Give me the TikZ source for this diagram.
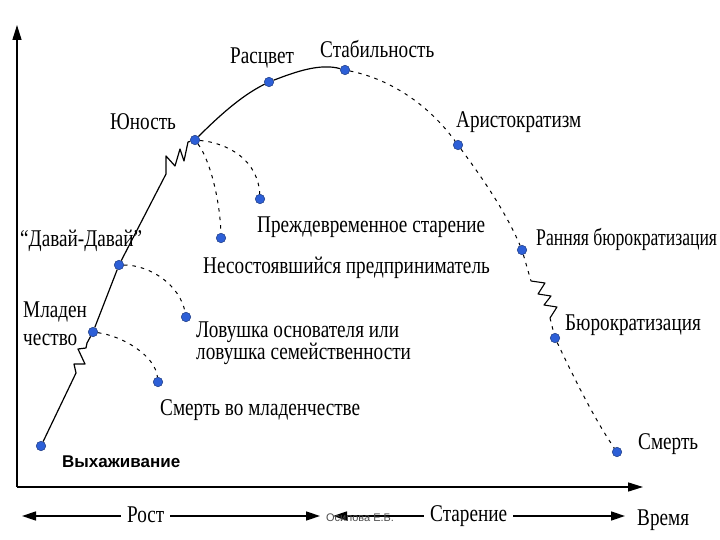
\documentclass[tikz,border=0pt]{standalone}
\usepackage{fontspec}
\setmainfont{Liberation Serif}
\newfontfamily\lblfont[FakeStretch=0.8]{Liberation Serif}
\newfontfamily\sansf{Liberation Sans}
\usetikzlibrary{arrows.meta}
\definecolor{dotblue}{RGB}{45,95,215}
\tikzset{
  dot/.style={circle,inner sep=0pt,minimum width=8.5pt,minimum height=9.5pt,fill=dotblue,draw=dotblue!60!black,line width=0.5pt},
  lbl/.style={font=\lblfont\fontsize{24}{22}\selectfont,inner sep=0pt,anchor=base west,align=left},
  solidc/.style={line width=1.2pt,line join=round},
  dashc/.style={line width=1pt,dash pattern=on 3.5pt off 5pt},
  axis/.style={line width=1.5pt,-{Triangle[length=15pt,width=9pt]}},
  baxis/.style={line width=1.5pt,{Triangle[length=14pt,width=9pt]}-{Triangle[length=14pt,width=9pt]}},
}
\begin{document}
\begin{tikzpicture}[x=1pt,y=-1pt]
\useasboundingbox (0,0) rectangle (720,540);
\clip (0,0) rectangle (720,540);
\fill[white] (0,0) rectangle (720,540);
% axes
\coordinate (o) at (17,487);
\coordinate (ytop) at (17,25);
\coordinate (xend) at (643,487);
\draw[axis] (o) -- (ytop);
\draw[axis] (o) -- (xend);
% dots
\node[dot] (vyh) at (41,446) {};
\node[dot] (mlad) at (93,332) {};
\node[dot] (davai) at (119,265) {};
\node[dot] (yun) at (195,140) {};
\node[dot] (rasc) at (269,82) {};
\node[dot] (stab) at (345,70) {};
\node[dot] (arist) at (458,145) {};
\node[dot] (rann) at (522,250) {};
\node[dot] (buro) at (555,338) {};
\node[dot] (smert) at (617,452) {};
\node[dot] (prezhd) at (260,199) {};
\node[dot] (nesost) at (221,238) {};
\node[dot] (lov) at (186,317) {};
\node[dot] (smml) at (158,382) {};
% zigzag coordinates
\coordinate (z1a) at (76,373);
\coordinate (z1b) at (87,343);
\coordinate (z2a) at (166,174);
\coordinate (z2b) at (188,142);
\coordinate (z3a) at (531,281);
\coordinate (z3b) at (550,318);
% main solid curve
\draw[solidc] (vyh) -- (z1a) -- (74,364) -- (85,364) -- (78,349) -- (86,348) -- (z1b) -- (mlad);
\draw[solidc] (mlad) -- (davai);
\draw[solidc] (davai) -- (z2a) -- (166,156) -- (175,166) -- (180,149) -- (184,161) -- (z2b) -- (yun);
\draw[solidc] (yun) .. controls (225,110) and (245,94) .. (rasc);
\draw[solidc] (rasc) .. controls (295,72) and (320,63) .. (stab);
% decline (dashed)
\draw[dashc] (stab) .. controls (385,78) and (425,100) .. (arist);
\draw[dashc] (arist) .. controls (480,175) and (505,210) .. (rann);
\draw[dashc] (rann) -- (z3a);
\draw[line width=1.1pt,line join=round] (z3a) -- (545,283) -- (538,294) -- (551,296) -- (544,305) -- (557,307) -- (z3b);
\draw[dashc] (z3b) -- (buro);
\draw[dashc] (buro) .. controls (575,380) and (595,420) .. (smert);
% branches
\draw[dashc] (yun) .. controls (228,143) and (258,160) .. (prezhd);
\draw[dashc] (yun) .. controls (210,160) and (220,200) .. (nesost);
\draw[dashc] (davai) .. controls (150,265) and (180,285) .. (lov);
\draw[dashc] (mlad) .. controls (122,336) and (155,355) .. (smml);
% labels
\node[lbl] (tRasc) at (230,64) {Расцвет};
\node[lbl] (tStab) at (320,58) {Стабильность};
\node[lbl] (tYun) at (110,130) {Юность};
\node[lbl] (tArist) at (456,128) {Аристократизм};
\node[lbl] (tPrezhd) at (257,233) {Преждевременное старение};
\node[lbl] (tNesost) at (203,273) {Несостоявшийся предприниматель};
\node[lbl] (tDavai) at (20,247) {“Давай-Давай”};
\node[lbl] (tRann) at (536,245) {\scalebox{0.92}[1]{Ранняя бюрократизация}};
\node[lbl] (tBuro) at (565,330) {Бюрократизация};
\node[lbl] (tMlad1) at (23,317) {Младен};
\node[lbl] (tMlad2) at (23,345) {чество};
\node[lbl] (tLov1) at (196,337) {Ловушка основателя или};
\node[lbl] (tLov2) at (196,359) {ловушка семейственности};
\node[lbl] (tSmml) at (160,415) {Смерть во младенчестве};
\node[lbl] (tSmert) at (638,449) {Смерть};
\node[font=\sansf\bfseries\fontsize{17}{17}\selectfont,inner sep=0pt,anchor=base west] (tVyh) at (62,467) {Выхаживание};
% bottom arrows
\coordinate (b1) at (22,516);
\coordinate (b2) at (320,516);
\coordinate (b3) at (333,516);
\coordinate (b4) at (625,516);
\draw[baxis] (b1) -- (b2);
\draw[baxis] (b3) -- (b4);
\node[lbl,fill=white,inner xsep=6pt,inner ysep=2pt] (tRost) at (121,522) {Рост};
\node[lbl,fill=white,inner xsep=6pt,inner ysep=2pt] (tStar) at (424,521) {Старение};
\node[lbl] (tVrem) at (637,525) {Время};
\node[font=\sansf\fontsize{11}{11}\selectfont,text=black!70,inner sep=0pt] (tAuth) at (360,518) {Осипова Е.Б.};
\end{tikzpicture}
\end{document}
